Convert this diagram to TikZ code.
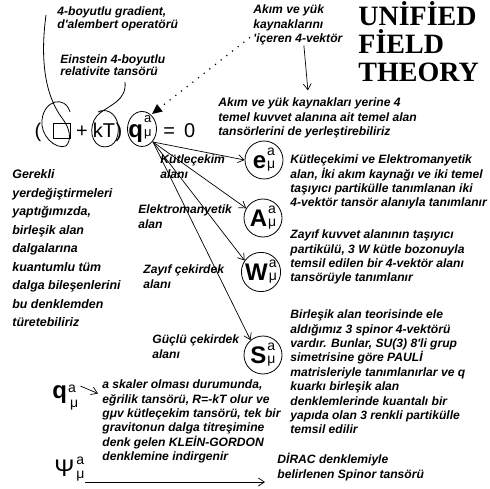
\documentclass[tikz,border=0pt]{standalone}
\usepackage{fontspec}
\setmainfont{Liberation Sans}
\newfontfamily\titlefont{Liberation Serif}
\usepackage{tikz}
\usetikzlibrary{arrows.meta,positioning,calc}
\newcommand{\notefont}{\fontsize{12.1}{14.4}\selectfont\bfseries\itshape}
\newcommand{\idx}[2]{\rlap{\raisebox{#1}{a}}\raisebox{#2}{μ}}
\newcommand{\tens}[1]{{\fontsize{24}{24}\selectfont\bfseries #1}\kern1pt{\fontsize{14}{14}\selectfont\idx{13pt}{0pt}}}

\begin{document}
\begin{tikzpicture}[x=1pt,y=-1pt,line width=0.8pt,
  note/.style={font=\notefont,align=left,inner sep=0pt,anchor=north west},
  eqn/.style={font=\fontsize{20}{20}\selectfont,inner sep=0pt},
  field/.style={draw,circle,minimum size=38pt,inner sep=0pt},
  arr/.style={-{Straight Barb[length=6pt,width=8pt]},line width=0.7pt}]
\useasboundingbox (0,0) rectangle (490,489);
% equation
\node[eqn,anchor=base] (lpar) at (38,138) {(};
\node[draw,minimum width=17pt,minimum height=15pt,inner sep=0pt,line width=1pt] (dal) at (62,131) {};
\node[eqn,anchor=base] (plus) at (82,138) {+};
\node[eqn,anchor=base] (kt) at (104,138) {kT};
\node[eqn,anchor=base] (rpar) at (119,138) {)};
\node[eqn,anchor=base west] (qeq) at (128,138) {{\fontsize{24}{24}\selectfont\bfseries q}\kern1pt{\fontsize{13}{13}\selectfont\idx{15pt}{1pt}}};
\node[eqn,anchor=base west] (zero) at (163,138) {=\hspace{0.45em}0};
\coordinate (qfoot) at (153,142);
\coordinate (qtop) at (152,114);
% labels at the top
\node[note,font=\fontsize{12.1}{13.3}\selectfont\bfseries\itshape] (grad) at (57,6) {4-boyutlu gradient,\\d\textquotesingle alembert operatörü};
\node[note,font=\fontsize{12.1}{12}\selectfont\bfseries\itshape] (einst) at (60,54) {Einstein 4-boyutlu\\relativite tansörü};
\node[note] (akim) at (253,4.5) {Akım ve yük\\kaynaklarını\\\textquotesingle içeren 4-vektör};
\node[anchor=north west,inner sep=0pt,align=left,font=\titlefont\bfseries\fontsize{28}{28}\selectfont] (title) at (358,1) {UNİFİED\\FİELD\\THEORY};
\node[note] (yerine) at (218,97.5) {Akım ve yük kaynakları yerine 4\\temel kuvvet alanına ait temel alan\\tansörlerini de yerleştirebiliriz};
% hand drawn loops
\draw (46,15) .. controls (40,60) and (45,95) .. (62,118) .. controls (70,128) and (72,140) .. (66,146)
  .. controls (55,150) and (40,135) .. (42,120) .. controls (44,100) and (65,95) .. (70,112);
\draw (125,82) .. controls (127,100) and (110,105) .. (100,113) .. controls (90,120) and (88,140) .. (100,146)
  .. controls (112,150) and (120,140) .. (118,125) .. controls (116,112) and (105,108) .. (98,112);
\draw (142,129) ellipse [x radius=14.5,y radius=17.5];
\draw[line width=1.2pt,dash pattern=on 1.2pt off 6pt,-{Triangle[length=10pt,width=9pt]}] ([shift={(-3,-8)}]akim.south west) -- (qtop);
\draw[arr] ([xshift=6pt]akim.south) -- ++(4,45);
% fields
\node[field] (e) at (264,160) {\tens{e}};
\node[field] (A) at (263,218) {\tens{A}};
\node[field] (W) at (261,272) {\tens{W}};
\node[field] (S) at (263,355) {\tens{S}};
\draw[arr] (qfoot) -- (e.west);
\draw[arr] (qfoot) -- (A.150);
\draw[arr] (qfoot) -- (W.145);
\draw[arr] (qfoot) -- (S.130);
\node[note] (lbe) at (160,154.5) {Kütleçekim\\alanı};
\node[note] (lba) at (138,204.5) {Elektromanyetik\\alan};
\node[note] (lbw) at (143,264.5) {Zayıf çekirdek\\alanı};
\node[note] (lbs) at (152,334.5) {Güçlü çekirdek\\alanı};
\node[note] (dese) at (290,154.5) {Kütleçekimi ve Elektromanyetik\\alan, İki akım kaynağı ve iki temel\\taşıyıcı partikülle tanımlanan iki\\4-vektör tansör alanıyla tanımlanır};
\node[note] (desw) at (290,229.5) {Zayıf kuvvet alanının taşıyıcı\\partikülü, 3 W kütle bozonuyla\\temsil edilen bir 4-vektör alanı\\tansörüyle tanımlanır};
\node[note] (dess) at (290,309.5) {Birleşik alan teorisinde ele\\aldığımız 3 spinor 4-vektörü\\vardır. Bunlar, SU(3) 8\textquotesingle li grup\\simetrisine göre PAULİ\\matrisleriyle tanımlanırlar ve q\\kuarkı birleşik alan\\denklemlerinde kuantalı bir\\yapıda olan 3 renkli partikülle\\temsil edilir};
\node[note,font=\fontsize{12.4}{18.5}\selectfont\bfseries\itshape] (gerek) at (12,169.5) {Gerekli\\yerdeğiştirmeleri\\yaptığımızda,\\birleşik alan\\dalgalarına\\kuantumlu tüm\\dalga bileşenlerini\\bu denklemden\\türetebiliriz};
% bottom
\node[inner sep=0pt,anchor=base west] (bq) at (52,398) {{\fontsize{24}{24}\selectfont\bfseries q}\kern1pt{\fontsize{14}{14}\selectfont\rlap{\raisebox{6pt}{a}}\kern2pt\raisebox{-9pt}{μ}}};
\node[inner sep=0pt,anchor=base west] (psi) at (54,476) {{\fontsize{24}{24}\selectfont Ψ}\kern2pt{\fontsize{14}{14}\selectfont\idx{12pt}{-2pt}}};
\node[note] (skaler) at (102,379.5) {a skaler olması durumunda,\\eğrilik tansörü, R=-kT olur ve\\gμv kütleçekim tansörü, tek bir\\gravitonun dalga titreşimine\\denk gelen KLEİN-GORDON\\denklemine indirgenir};
\node[note] (dirac) at (277,453) {DİRAC denklemiyle\\belirlenen Spinor tansörü};
\draw[arr] ([shift={(2,2)}]bq.north east) -- ([shift={(-4,14)}]skaler.north west);
\draw[arr] (psi.south east |- 0,482) -- ([xshift=-12pt]dirac.west |- 0,482);
\end{tikzpicture}
\end{document}
